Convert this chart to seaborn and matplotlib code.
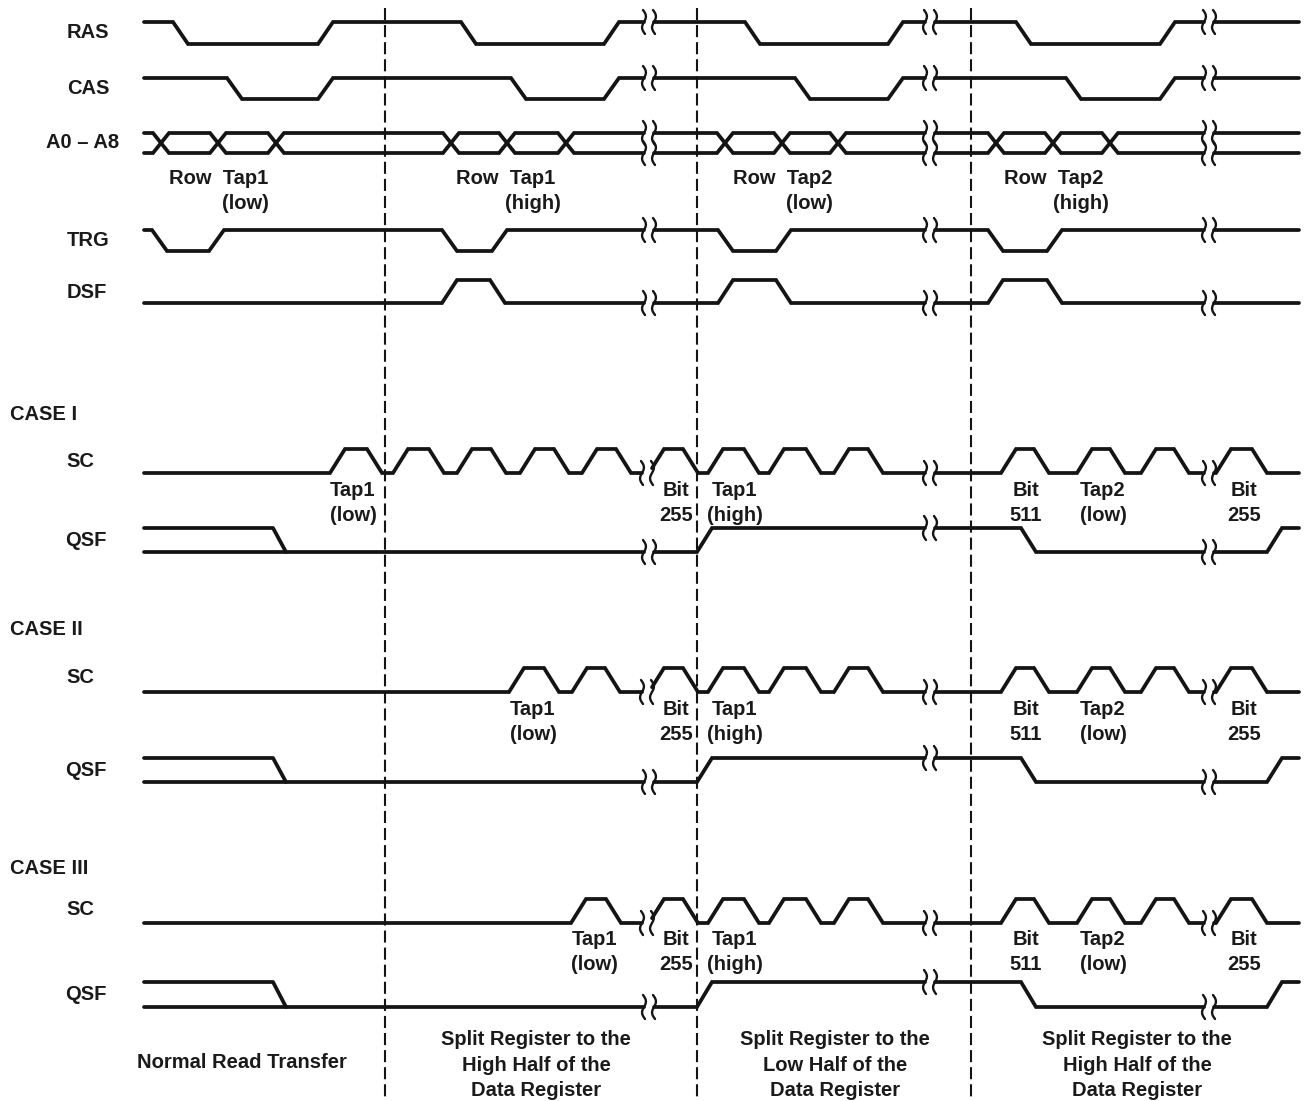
import numpy as np
import matplotlib
matplotlib.use("Agg")
import matplotlib.pyplot as plt
import seaborn as sns

sns.set_theme(style="white")
plt.rcParams['font.family'] = ['Liberation Sans', 'DejaVu Sans']

# ---- timing data (time axis in drawing units) ----
T_START, T_END = 144, 1299
EDGE = 15            # rise/fall time
CROSS = 16           # width of an address-bus crossing
DIVIDERS = [385, 697, 971]
BREAKS = [649, 930, 1209]
SC_BREAKS = [647, 930, 1209]

ras_edges = [173, 318, 461, 604, 745, 888, 1016, 1160]
cas_edges = [227, 318, 511, 604, 795, 888, 1066, 1160]
trg_edges = [152, 209, 442, 492, 718, 776, 988, 1047]
dsf_edges = [442, 490, 718, 776, 988, 1047]
addr_cross = [161, 218, 276, 451, 507, 566, 725, 782, 838, 996, 1053, 1110]

sc_tail = [708, 744, 769, 806, 834, 868, 1001, 1034, 1077, 1110, 1141, 1174, 1216, 1252]
sc_case1 = [330, 367, 393, 429, 457, 491, 520, 554, 582, 616, 649, 683] + sc_tail
sc_case2 = [509, 544, 572, 605, 649, 683] + sc_tail
sc_case3 = [571, 606, 649, 683] + sc_tail
qsf_edges = [697, 1021, 1267]
qsf_unknown_end = 273

signal_names = ["RAS", "CAS", "A0 – A8", "TRG", "DSF"]
case_names = ["CASE I", "CASE II", "CASE III"]
row_tap_top = ["Row  Tap1", "Row  Tap1", "Row  Tap2", "Row  Tap2"]
row_tap_bot = ["(low)", "(high)", "(low)", "(high)"]
sc_top = ["Tap1", "Bit", "Tap1", "Bit", "Tap2", "Bit"]
sc_bot = ["(low)", "255", "(high)", "511", "(low)", "255"]
phase_labels = [["Normal Read Transfer"],
                ["Split Register to the", "High Half of the", "Data Register"],
                ["Split Register to the", "Low Half of the", "Data Register"],
                ["Split Register to the", "High Half of the", "Data Register"]]

# ---- layout (pixels) ----
ROWS = {"RAS": (22, 44), "CAS": (78, 99), "A0": (133, 153), "TRG": (230, 251), "DSF": (280, 303)}
CASE_ROWS = [((449, 473), (528, 552)), ((668, 692), (758, 782)), ((899, 923), (982, 1007))]
NAME_POS = [(88, 31), (88, 87), (83, 141), (88, 239), (87, 291)]
CASE_POS = [(10, 413), (10, 628), (10, 867)]
CASE_SIG_POS = [((80, 460), (86, 539)), ((80, 676), (86, 769)), ((80, 908), (86, 993))]
ROW_TAP_POS = [((219, 177), (245, 202)), ((506, 177), (533, 202)),
               ((783, 177), (809, 202)), ((1054, 177), (1081, 202))]
SC_LBL_X = [[353, 676, 735, 1026, 1103, 1244],
            [533, 676, 735, 1026, 1103, 1244],
            [594, 676, 735, 1026, 1103, 1244]]
SC_LBL_Y = [(489, 514), (708, 733), (938, 963)]
PHASE_X = [242, 536, 835, 1137]
PHASE_Y = [[1061], [1038, 1064, 1089], [1038, 1064, 1089], [1038, 1064, 1089]]

INK = "#141414"
LW = 2.7
FS = 14.5

fig = plt.figure(figsize=(13.04, 11.01), dpi=100)
ax = fig.add_axes([0, 0, 1, 1])
ax.set_xlim(0, 1304)
ax.set_ylim(1101, 0)
ax.axis("off")


def wave(first, edges, w=EDGE, t0=T_START, t1=T_END):
    xs, ls, lvl = [t0], [first], first
    for e in edges:
        xs += [e, e + w]
        ls += [lvl, 1 - lvl]
        lvl = 1 - lvl
    xs.append(t1)
    ls.append(lvl)
    return np.array(xs, float), np.array(ls, float)


def draw_break(xc, yc, half=12):
    t = np.linspace(-1, 1, 30)
    for dx in (-5, 5):
        ax.plot(xc + dx - 2.4 * np.sin(np.pi * t) + 1.0 * t, yc + half * t,
                color=INK, lw=1.7, solid_capstyle="round")


def draw_signal(xs, ls, hi, lo, breaks, gap=5):
    ys = lo - ls * (lo - hi)
    cuts = [xs[0]]
    for b in breaks:
        cuts += [b - gap, b + gap]
    cuts.append(xs[-1])
    for a, b in zip(cuts[::2], cuts[1::2]):
        inside = (xs > a) & (xs < b)
        sx = np.concatenate([[a], xs[inside], [b]])
        sy = np.concatenate([[np.interp(a, xs, ys)], ys[inside], [np.interp(b, xs, ys)]])
        sns.lineplot(x=sx, y=sy, ax=ax, color=INK, linewidth=LW, sort=False,
                     estimator=None, solid_joinstyle="miter")
    for b in breaks:
        draw_break(b, np.interp(b, xs, ys))


def label(x, y, s, ha="center"):
    ax.text(x, y + 7, s, ha=ha, va="baseline", fontsize=FS, fontweight="bold", color="#1a1a1a")


# dashed phase dividers
for d in DIVIDERS:
    ax.plot([d, d], [8, 1101], color=INK, lw=1.5, ls=(0, (5.8, 2.4)))

# control signals
draw_signal(*wave(1, ras_edges), *ROWS["RAS"], BREAKS)
draw_signal(*wave(1, cas_edges), *ROWS["CAS"], BREAKS)
draw_signal(*wave(1, trg_edges), *ROWS["TRG"], BREAKS)
draw_signal(*wave(0, dsf_edges), *ROWS["DSF"], BREAKS)
cross_starts = [c - CROSS / 2 for c in addr_cross]
draw_signal(*wave(1, cross_starts, w=CROSS), *ROWS["A0"], BREAKS)
draw_signal(*wave(0, cross_starts, w=CROSS), *ROWS["A0"], BREAKS)

# the three cases
for (sc_row, qsf_row), sc in zip(CASE_ROWS, [sc_case1, sc_case2, sc_case3]):
    draw_signal(*wave(0, sc), *sc_row, SC_BREAKS)
    draw_signal(*wave(0, qsf_edges), *qsf_row, BREAKS)
    ux, ul = wave(1, [qsf_unknown_end], w=13, t1=qsf_unknown_end + 13)
    sns.lineplot(x=ux, y=qsf_row[1] - ul * (qsf_row[1] - qsf_row[0]), ax=ax, color=INK,
                 linewidth=LW, sort=False, estimator=None)

# text
for name, (x, y) in zip(signal_names, NAME_POS):
    label(x, y, name)
for name, (x, y), ((sx, sy), (qx, qy)) in zip(case_names, CASE_POS, CASE_SIG_POS):
    label(x, y, name, ha="left")
    label(sx, sy, "SC")
    label(qx, qy, "QSF")
for top, bot, ((x1, y1), (x2, y2)) in zip(row_tap_top, row_tap_bot, ROW_TAP_POS):
    label(x1, y1, top)
    label(x2, y2, bot)
for xs_c, (y1, y2) in zip(SC_LBL_X, SC_LBL_Y):
    for x, t, b in zip(xs_c, sc_top, sc_bot):
        label(x, y1, t)
        label(x, y2, b)
for x, lines, ys in zip(PHASE_X, phase_labels, PHASE_Y):
    for s, y in zip(lines, ys):
        label(x, y, s)

fig.savefig("out.png", dpi=100, facecolor="white")
